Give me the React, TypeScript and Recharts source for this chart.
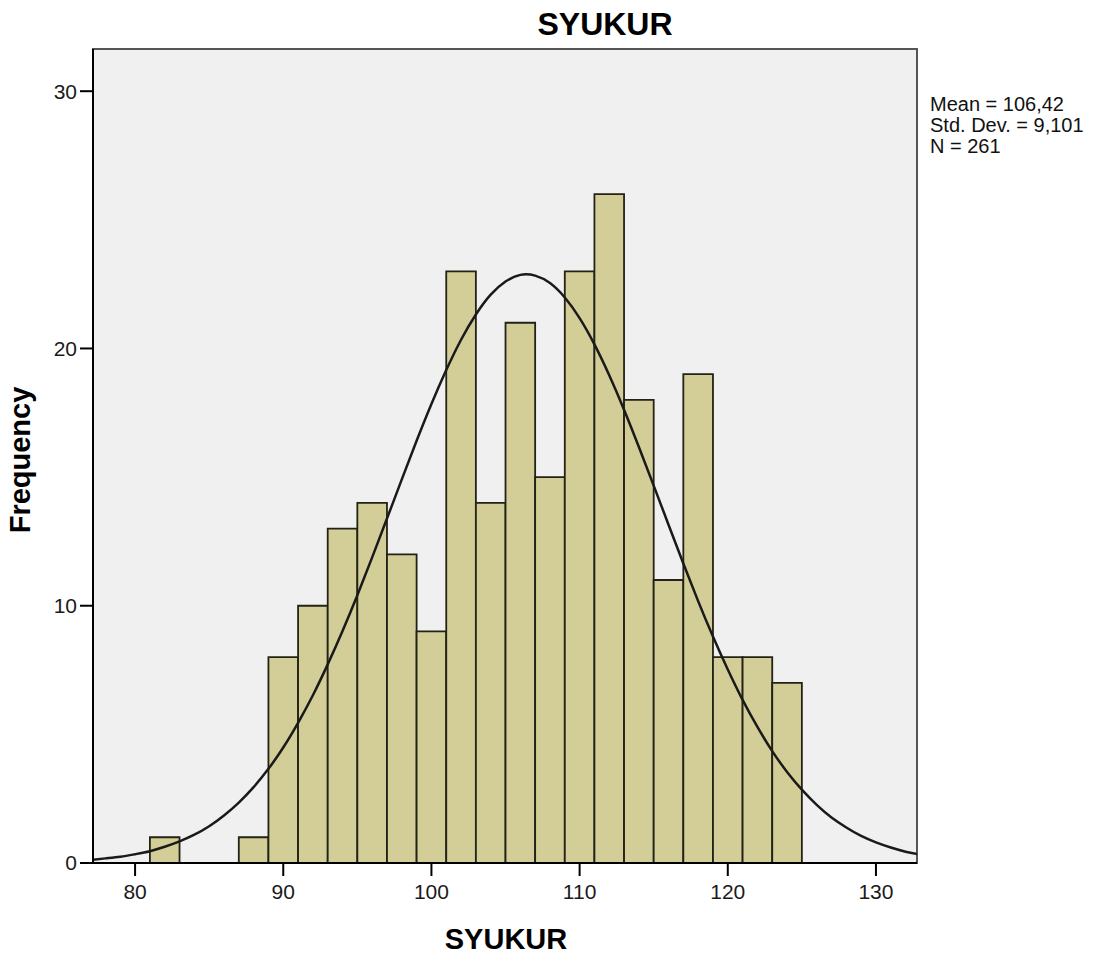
import React from 'react';
import { ComposedChart, Line, XAxis, YAxis, CartesianGrid, ReferenceArea } from 'recharts';

// histogram bins (width 2)
const binLow = [81, 83, 85, 87, 89, 91, 93, 95, 97, 99, 101, 103, 105, 107, 109, 111, 113, 115, 117, 119, 121, 123];
const counts = [1, 0, 0, 1, 8, 10, 13, 14, 12, 9, 23, 14, 21, 15, 23, 26, 18, 11, 19, 8, 8, 7];
const binWidth = 2;

// fitted normal curve, read along the x axis
const curveX = [77, 78, 79, 80, 81, 82, 83, 84, 85, 86, 87, 88, 89, 90, 91, 92, 93, 94, 95, 96, 97, 98, 99, 100, 101, 102, 103, 104, 105, 106, 107, 108, 109, 110, 111, 112, 113, 114, 115, 116, 117, 118, 119, 120, 121, 122, 123, 124, 125, 126, 127, 128, 129, 130, 131, 132, 133];
const curveY = [0.12, 0.18, 0.24, 0.34, 0.46, 0.63, 0.84, 1.1, 1.43, 1.85, 2.35, 2.95, 3.66, 4.49, 5.45, 6.52, 7.72, 9.02, 10.41, 11.88, 13.39, 14.91, 16.41, 17.84, 19.16, 20.34, 21.32, 22.09, 22.6, 22.86, 22.83, 22.54, 21.98, 21.18, 20.16, 18.96, 17.62, 16.17, 14.67, 13.15, 11.64, 10.18, 8.8, 7.52, 6.34, 5.29, 4.35, 3.54, 2.85, 2.26, 1.77, 1.38, 1.05, 0.8, 0.6, 0.44, 0.32];

const xTicks = [80, 90, 100, 110, 120, 130];
const yTicks = [0, 10, 20, 30];
const xDomain = [77.16, 132.77];
const yDomain = [0, 31.64];

const statLines = ['Mean = 106,42', 'Std. Dev. = 9,101', 'N = 261'];

const curve = curveX.map((x, i) => ({ x, y: curveY[i] }));

const font = '"Liberation Sans", Arial, sans-serif';
const tickStyle = { fontSize: 21, fill: '#1a1a1a', fontFamily: font };

export default function App() {
  return (
    <div style={{ position: 'absolute', left: 0, top: 0, width: 1105, height: 955, background: '#fff' }}>
      <ComposedChart
        width={1105}
        height={955}
        data={curve}
        margin={{ top: 49, right: 188, bottom: 0, left: 13 }}
      >
        <CartesianGrid horizontal={false} vertical={false} fill="#F0F0F0" />
        <XAxis
          dataKey="x"
          type="number"
          domain={xDomain}
          allowDataOverflow
          ticks={xTicks}
          height={92}
          tickSize={13}
          tickMargin={8}
          tick={tickStyle}
          axisLine={{ stroke: '#000', strokeWidth: 2 }}
          tickLine={{ stroke: '#000', strokeWidth: 2 }}
        />
        <YAxis
          type="number"
          domain={yDomain}
          allowDataOverflow
          ticks={yTicks}
          width={80}
          tickSize={13}
          tickMargin={3}
          tick={tickStyle}
          axisLine={{ stroke: '#000', strokeWidth: 2 }}
          tickLine={{ stroke: '#000', strokeWidth: 2 }}
        />
        {binLow.map((lo, i) =>
          counts[i] > 0 ? (
            <ReferenceArea
              key={lo}
              x1={lo}
              x2={lo + binWidth}
              y1={0}
              y2={counts[i]}
              fill="#D3CE97"
              fillOpacity={1}
              stroke="#222216"
              strokeWidth={1.8}
            />
          ) : null
        )}
        <ReferenceArea
          x1={xDomain[0]}
          x2={xDomain[1]}
          y1={yDomain[0]}
          y2={yDomain[1]}
          fill="none"
          fillOpacity={0}
          stroke="#555"
          strokeWidth={2}
        />
        <Line
          dataKey="y"
          type="natural"
          stroke="#1a1a1a"
          strokeWidth={2.5}
          dot={false}
          activeDot={false}
          isAnimationActive={false}
        />
      </ComposedChart>
      <svg
        width={1105}
        height={955}
        style={{ position: 'absolute', left: 0, top: 0, pointerEvents: 'none' }}
        fontFamily={font}
      >
        <text x={605} y={35} textAnchor="middle" fontSize={32} fontWeight="bold" fill="#000">SYUKUR</text>
        <text x={506} y={949} textAnchor="middle" fontSize={29} fontWeight="bold" fill="#000">SYUKUR</text>
        <text
          transform="translate(30,460) rotate(-90)"
          textAnchor="middle"
          fontSize={29}
          fontWeight="bold"
          fill="#000"
        >
          Frequency
        </text>
        {statLines.map((s, i) => (
          <text key={s} x={930} y={111 + i * 21} fontSize={20} fill="#111">{s}</text>
        ))}
      </svg>
    </div>
  );
}
